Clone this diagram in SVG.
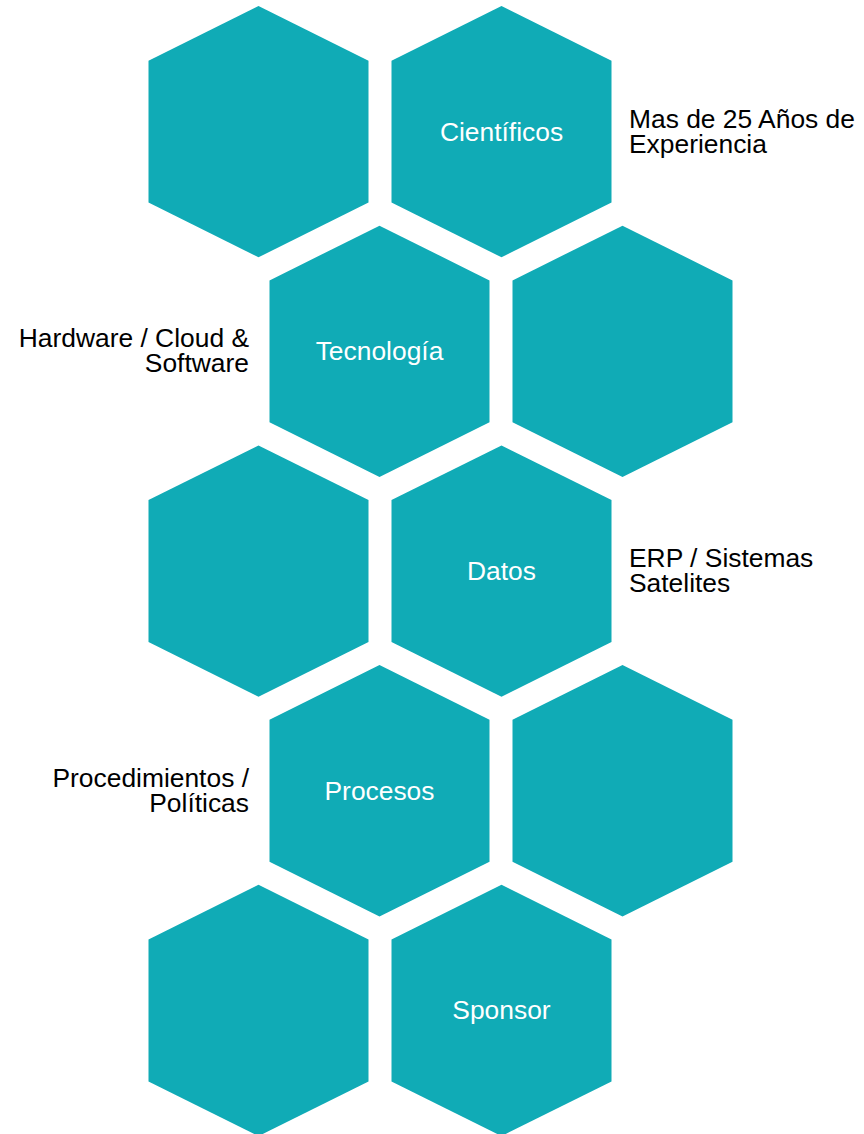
<svg xmlns="http://www.w3.org/2000/svg" xmlns:xlink="http://www.w3.org/1999/xlink" width="864" height="1134" viewBox="0 0 864 1134">
<style>
.hex{fill:#10ABB6}
.lbl{font-family:"Liberation Sans",Arial,sans-serif;font-size:26.4px;fill:#FFFFFF;text-anchor:middle}
.side{font-family:"Liberation Sans",Arial,sans-serif;font-size:26.4px;fill:#000000}
.end{text-anchor:end}
</style>
<defs>
<path id="hx" d="M0,-125.65 L110,-70.95 L110,70.95 L0,125.65 L-110,70.95 L-110,-70.95 Z"/>
</defs>
<rect width="864" height="1134" fill="#FFFFFF"/>
<g id="connectors"/>
<g id="hex-r1a"><use xlink:href="#hx" class="hex" x="258.5" y="131.65"/></g>
<g id="hex-cientificos"><use xlink:href="#hx" class="hex" x="501.5" y="131.65"/><text class="lbl" x="501.5" y="140.6">Científicos</text></g>
<g id="hex-tecnologia"><use xlink:href="#hx" class="hex" x="379.5" y="351.35"/><text class="lbl" x="379.5" y="360.3">Tecnología</text></g>
<g id="hex-r2d"><use xlink:href="#hx" class="hex" x="622.5" y="351.35"/></g>
<g id="hex-r3a"><use xlink:href="#hx" class="hex" x="258.5" y="571.05"/></g>
<g id="hex-datos"><use xlink:href="#hx" class="hex" x="501.5" y="571.05"/><text class="lbl" x="501.5" y="580">Datos</text></g>
<g id="hex-procesos"><use xlink:href="#hx" class="hex" x="379.5" y="790.75"/><text class="lbl" x="379.5" y="799.7">Procesos</text></g>
<g id="hex-r4d"><use xlink:href="#hx" class="hex" x="622.5" y="790.75"/></g>
<g id="hex-r5a"><use xlink:href="#hx" class="hex" x="258.5" y="1010.45"/></g>
<g id="hex-sponsor"><use xlink:href="#hx" class="hex" x="501.5" y="1010.45"/><text class="lbl" x="501.5" y="1019.4">Sponsor</text></g>
<g id="label-experiencia"><text class="side"><tspan x="629" y="127.7">Mas de 25 Años de</tspan><tspan x="629" y="152.7">Experiencia</tspan></text></g>
<g id="label-hardware"><text class="side end"><tspan x="249" y="347.4">Hardware / Cloud &amp;</tspan><tspan x="249" y="372.4">Software</tspan></text></g>
<g id="label-erp"><text class="side"><tspan x="629" y="567.1">ERP / Sistemas</tspan><tspan x="629" y="592.1">Satelites</tspan></text></g>
<g id="label-procedimientos"><text class="side end"><tspan x="249" y="786.8">Procedimientos /</tspan><tspan x="249" y="811.8">Políticas</tspan></text></g>
</svg>
